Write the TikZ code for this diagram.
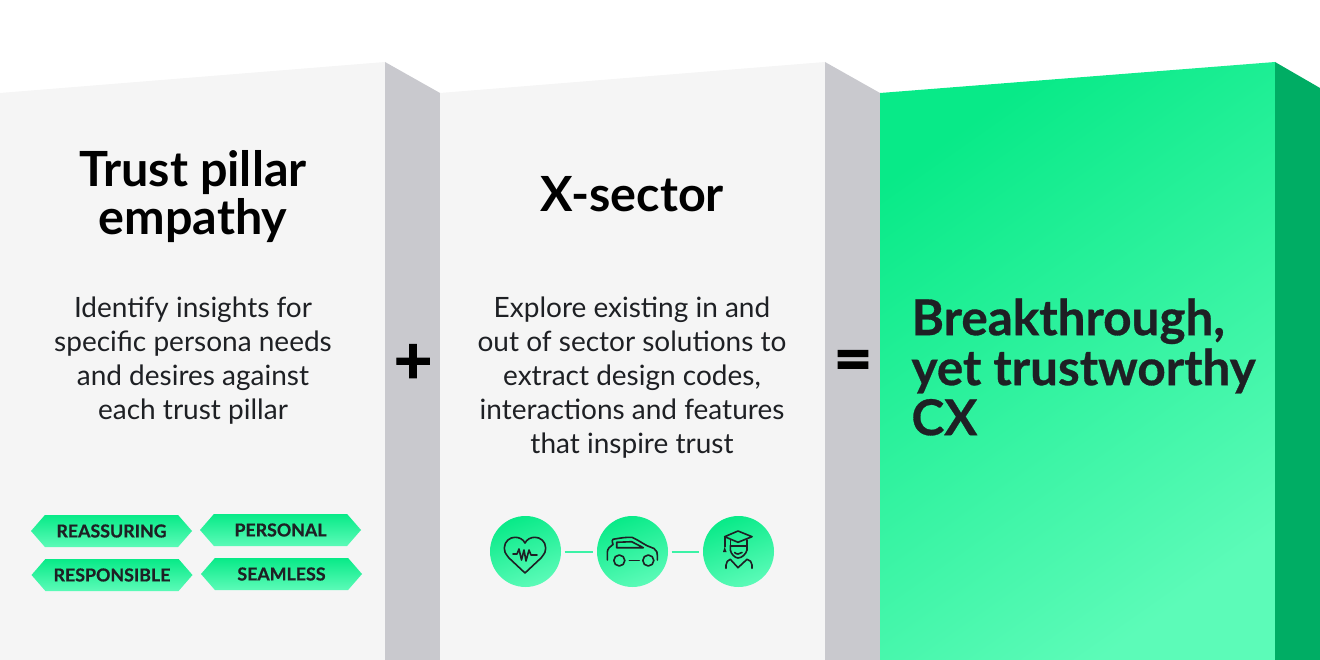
\documentclass[tikz,border=0pt]{standalone}
\usepackage{fontspec}
\setmainfont{Lato}
\usetikzlibrary{shapes.symbols}
\definecolor{panelgrey}{HTML}{F5F5F5}
\definecolor{sidegrey}{HTML}{C9C9CE}
\definecolor{sidegreen}{HTML}{00AD64}
\definecolor{gradtop}{HTML}{08EA88}
\definecolor{gradlow}{HTML}{5CFBB8}
\definecolor{linkgreen}{HTML}{3BF2A6}
\definecolor{inkdark}{HTML}{1E2024}
\tikzset{
  panelbox/.style={fill=panelgrey},
  sidebox/.style={fill=sidegrey},
  headtext/.style={align=center,font=\bfseries\fontsize{48.5}{48}\selectfont,text=black},
  bodytext/.style={align=center,font=\fontsize{28}{34}\selectfont,text=inkdark},
  tagbox/.style={signal,signal to=east and west,signal pointer angle=98,minimum width=161pt,minimum height=32pt,inner sep=0pt,
    top color=gradtop,bottom color=gradlow,font=\bfseries\addfontfeature{FakeBold=0.6}\fontsize{17.8}{20}\selectfont,text=inkdark},
  iconcircle/.style={circle,minimum size=71pt,inner sep=0pt,top color=gradtop,bottom color=gradlow,shading angle=20},
  iconline/.style={draw=inkdark,line width=1.6pt,line cap=round,line join=round},
  linkline/.style={draw=linkgreen,line width=2pt,shorten >=3.5pt,shorten <=3.5pt},
  signtext/.style={font=\bfseries\addfontfeature{FakeBold=2}\fontsize{66}{66}\selectfont,text=black},
}
\begin{document}
\begin{tikzpicture}[x=1pt,y=-1pt]
\path[use as bounding box] (0,0) rectangle (1320,660);
% panels
\fill[panelbox] (0,93)--(385,62)--(385,660)--(0,660)--cycle;
\fill[sidebox] (385,62)--(440,93)--(440,660)--(385,660)--cycle;
\fill[panelbox] (440,93)--(825,62)--(825,660)--(440,660)--cycle;
\fill[sidebox] (825,62)--(880,93)--(880,660)--(825,660)--cycle;
\shade[top color=gradtop,bottom color=gradlow,shading angle=35] (880,93)--(1275,62)--(1275,660)--(880,660)--cycle;
\fill[sidegreen] (1275,62)--(1320,88)--(1320,660)--(1275,660)--cycle;
% texts
\node[headtext] (pillarhead) at (193,197) {Trust pillar\\empathy};
\node[headtext] (sectorhead) at (632,194) {X-sector};
\node[bodytext] (pillarbody) at (193,361) {Identify insights for\\specific persona needs\\and desires against\\each trust pillar};
\node[bodytext] (sectorbody) at (632,378) {Explore existing in and\\out of sector solutions to\\extract design codes,\\interactions and features\\that inspire trust};
\node[signtext] (plussign) at (413,364) {+};
\node[signtext] (equalsign) at (853,366) {=};
\node[align=left,anchor=west,font=\bfseries\addfontfeature{FakeBold=0.6}\fontsize{49.4}{50}\selectfont,text=inkdark] (resulttext) at (908,367) {Breakthrough,\\yet trustworthy\\CX};
% tags
\node[tagbox] (reassuring) at (111.5,531) {REASSURING};
\node[tagbox] (personal) at (280.5,530) {PERSONAL};
\node[tagbox] (responsible) at (112,575) {RESPONSIBLE};
\node[tagbox] (seamless) at (281.5,574) {SEAMLESS};
% icons
\node[iconcircle] (health) at (525.5,551.5) {};
\node[iconcircle] (car) at (632.5,551.5) {};
\node[iconcircle] (graduate) at (738.5,551.5) {};
\draw[linkline] (health)--(car);
\draw[linkline] (car)--(graduate);
\draw[iconline] (525,573)--(509,558) .. controls (505,553) and (504,551) .. (504.3,548) .. controls (504.5,541) and (510,537.3) .. (515,537.3) .. controls (519,537.3) and (523,539) .. (525,543) .. controls (527,539) and (531,537.3) .. (535,537.3) .. controls (540,537.3) and (545.5,541) .. (545.7,548) .. controls (546,551) and (545,553) .. (541,558)--cycle;
\draw[iconline] (513,554)--(517,554)--(519,549)--(521.5,560)--(524,550)--(526,561)--(529,550)--(531,555)--(537,555);
\draw[iconline] (607.3,560)--(607.3,552) .. controls (607.5,549) and (610,546) .. (613,544.5) .. controls (612,541) and (612,540) .. (613,539.3) .. controls (620,538) and (627,537) .. (632,537.3) .. controls (638,540) and (642,543) .. (647,545.7)--(654,548.5) .. controls (657,550) and (657.5,552) .. (657.3,560);
\draw[iconline] (616.7,542.3)--(631.7,541.7)--(643.3,547.7)--(616.7,547.7)--cycle;
\draw[iconline] (619.3,560.5) circle[radius=5.5pt];
\draw[iconline] (648.3,560.5) circle[radius=5.5pt];
\draw[iconline] (629.3,560.5)--(639.3,560.5);
\draw[iconline] (738,531)--(752,536.7)--(738,542.3)--(724.7,536.7)--cycle;
\draw[iconline] (730.3,540)--(730.3,545.7)--(747,545.7)--(747,540);
\draw[iconline] (724.7,536.7)--(724.7,546.7);
\fill[inkdark] (724.7,546.7)--(726.5,552)--(723,552)--cycle;
\draw[iconline] (730.3,545.7)--(730.3,550) .. controls (731,554) and (735,558) .. (738,558) .. controls (742,558) and (746,554) .. (747,550)--(747,545.7);
\draw[iconline] (734.7,552.5) .. controls (736,554.5) and (740,554.5) .. (742,552.5);
\draw[iconline] (726,568.3)--(726,565) .. controls (726,562) and (728,560) .. (730.3,559.3)--(738,567.7)--(747,559.3) .. controls (750,560) and (752,562) .. (752,565)--(752,568.3);
\end{tikzpicture}
\end{document}
